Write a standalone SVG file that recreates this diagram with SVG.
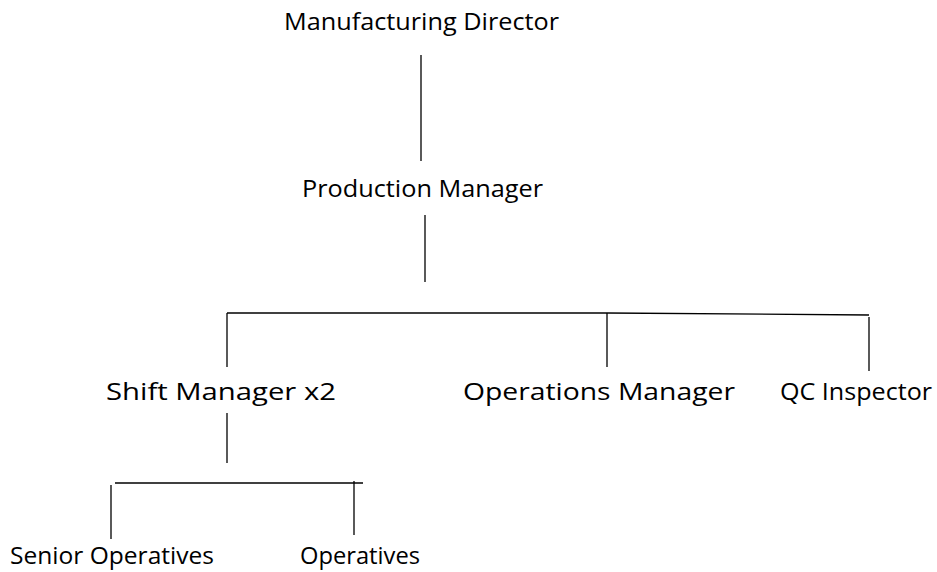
<svg xmlns="http://www.w3.org/2000/svg" width="937" height="572" viewBox="0 0 937 572">
<style>
text{font-family:"Open Sans","Noto Sans","Liberation Sans",sans-serif;font-size:23px;fill:#000}
.c line{stroke:#000;stroke-width:1.3}
</style>
<rect width="937" height="572" fill="#fff"/>
<g id="director"><text x="284" y="30" textLength="275" lengthAdjust="spacingAndGlyphs">Manufacturing Director</text></g>
<g id="production"><text x="302" y="197" textLength="241" lengthAdjust="spacingAndGlyphs">Production Manager</text></g>
<g id="shift"><text x="106" y="400" textLength="230" lengthAdjust="spacingAndGlyphs">Shift Manager x2</text></g>
<g id="operations"><text x="463" y="400" textLength="272" lengthAdjust="spacingAndGlyphs">Operations Manager</text></g>
<g id="qc"><text x="780" y="400" textLength="152" lengthAdjust="spacingAndGlyphs">QC Inspector</text></g>
<g id="senior"><text x="10" y="564" textLength="204" lengthAdjust="spacingAndGlyphs">Senior Operatives</text></g>
<g id="operatives"><text x="300" y="564" textLength="120" lengthAdjust="spacingAndGlyphs">Operatives</text></g>
<g id="connectors" class="c">
<line x1="421" y1="55" x2="421" y2="161"/>
<line x1="425" y1="215" x2="425" y2="282"/>
<line x1="227" y1="313" x2="607" y2="313"/>
<line x1="607" y1="313" x2="869" y2="315"/>
<line x1="227" y1="313" x2="227" y2="367"/>
<line x1="607" y1="313" x2="607" y2="367"/>
<line x1="869" y1="317" x2="869" y2="371"/>
<line x1="227" y1="413" x2="227" y2="463"/>
<line x1="115" y1="483" x2="363" y2="483"/>
<line x1="111" y1="485" x2="111" y2="539"/>
<line x1="354" y1="481" x2="354" y2="535"/>
</g>
</svg>
